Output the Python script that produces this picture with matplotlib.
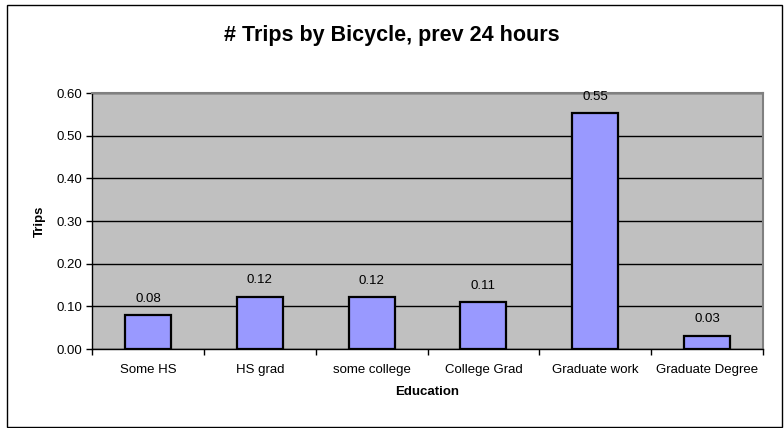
import matplotlib
matplotlib.use("Agg")
import matplotlib.pyplot as plt
from matplotlib.patches import Rectangle

plt.rcParams['font.family'] = ['Liberation Sans', 'DejaVu Sans']

# data
categories = ["Some HS", "HS grad", "some college", "College Grad",
              "Graduate work", "Graduate Degree"]
trips = [0.079, 0.122, 0.121, 0.109, 0.552, 0.031]
labels = ["0.08", "0.12", "0.12", "0.11", "0.55", "0.03"]
yticks = [0.0, 0.1, 0.2, 0.3, 0.4, 0.5, 0.6]

W, H = 784, 428
fig = plt.figure(figsize=(W / 100, H / 100), dpi=100)

# outer chart border, like Excel's chart area
fig.patches.append(Rectangle((7 / W, 1.5 / H), 774.5 / W, 421.5 / H, transform=fig.transFigure,
                             fill=False, edgecolor='black', linewidth=1.0))

ax = fig.add_axes([92 / W, 1 - 349 / H, (763 - 92) / W, (349 - 93) / H])
ax.set_facecolor('#C0C0C0')

x = range(len(categories))
ax.bar(x, trips, width=0.41, color='#9999FF', edgecolor='black', linewidth=1.6, zorder=3)

for i, (v, lab) in enumerate(zip(trips, labels)):
    ax.annotate(lab, (i, v), xytext=(0, 12), textcoords='offset points',
                ha='center', va='center', fontsize=9.5)

ax.set_xlim(-0.5, len(categories) - 0.5)
ax.set_ylim(0, 0.6)
ax.set_yticks(yticks)
ax.set_yticklabels([f"{t:.2f}" for t in yticks], fontsize=9.5)
ax.yaxis.grid(True, color='black', linewidth=1.0, zorder=1)
ax.set_axisbelow(True)

ax.set_xticks(list(x))
ax.set_xticklabels(categories, fontsize=9.5)
ax.tick_params(axis='x', which='major', length=0, pad=11)
ax.set_xticks([i - 0.5 for i in range(len(categories) + 1)], minor=True)
ax.tick_params(axis='x', which='minor', length=4, width=1, color='black', direction='out')
ax.tick_params(axis='y', length=4, width=1, direction='out', pad=3)

for side in ['top', 'right']:
    ax.spines[side].set_color('#808080')
    ax.spines[side].set_linewidth(1.5)
for side in ['left', 'bottom']:
    ax.spines[side].set_color('black')
    ax.spines[side].set_linewidth(1.0)

fig.text(392 / W, 1 - 35 / H, "# Trips by Bicycle, prev 24 hours", ha='center', va='center',
         fontsize=15.5, fontweight='bold')
fig.text(427 / W, 1 - 392 / H, "Education", ha='center', va='center',
         fontsize=9.5, fontweight='bold')
fig.text(40 / W, 1 - 221 / H, "Trips", ha='center', va='center', rotation=90,
         fontsize=9.5, fontweight='bold')

fig.savefig("out.png", dpi=100)
